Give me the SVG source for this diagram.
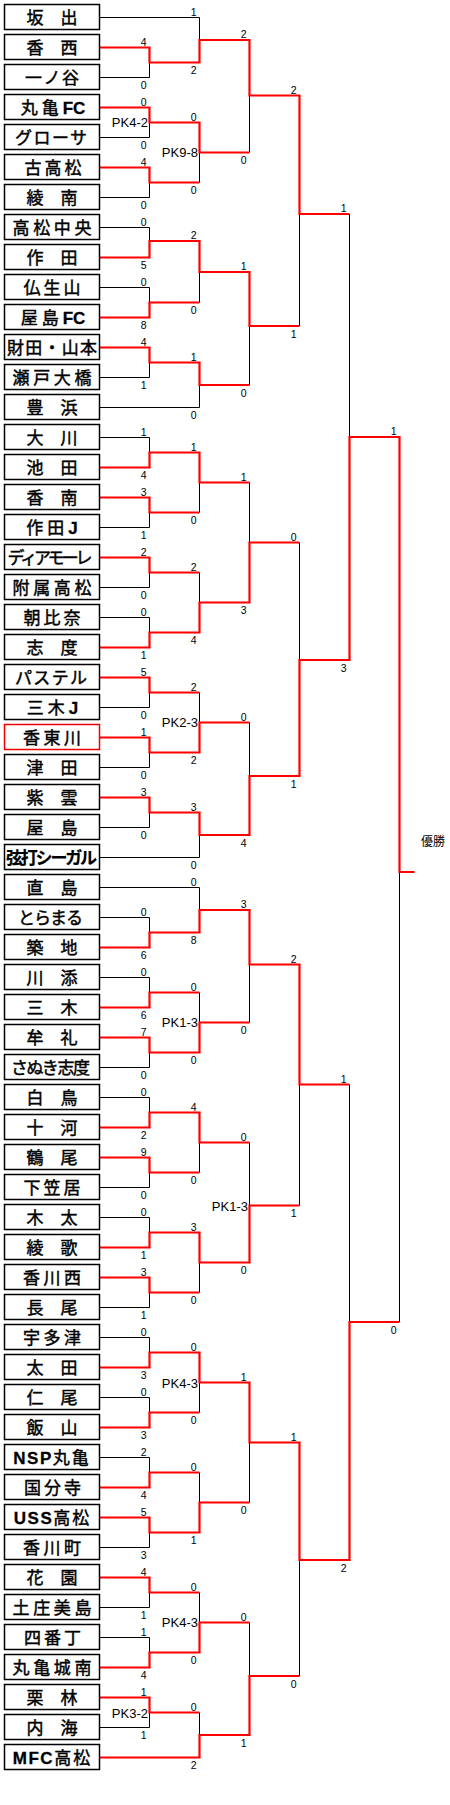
<svg xmlns="http://www.w3.org/2000/svg" width="450" height="1805" viewBox="0 0 450 1805">
<style>
.box{fill:#fff;stroke:#000;stroke-width:1.5}
.rb{stroke:#e00}
.nm{font-family:"Noto Sans CJK JP","Noto Sans CJK SC",sans-serif;font-size:17px;text-anchor:middle;fill:#000;stroke:#000;stroke-width:0.45}
.lt{font-family:"Liberation Sans",Arial,sans-serif;font-weight:bold;stroke-width:0.3}
.bd{font-weight:bold;stroke-width:0.2}
.k{fill:none;stroke:#000;stroke-width:1}
.r{fill:none;stroke:#f00;stroke-width:2.2}
.s{font-family:"Liberation Sans",Arial,sans-serif;font-size:10.5px;text-anchor:end;fill:#000}
.pk{font-family:"Liberation Sans",Arial,sans-serif;font-size:13px;text-anchor:end;fill:#000}
.w{font-family:"Noto Sans CJK JP",sans-serif;font-size:12px;fill:#000}
</style>
<defs>
<rect id="bx" x="4.5" y="4.5" width="95" height="25"/>
</defs>
<g id="connectors">
<path class="k" d="M99.5 77.5H149.5V62.5M99.5 137.5H149.5V122.5M99.5 197.5H149.5V182.5M99.5 227.5H149.5V241M99.5 287.5H149.5V302.5M99.5 377.5H149.5V362.5M99.5 437.5H149.5V452.5M99.5 527.5H149.5V512.5M99.5 587.5H149.5V572.5M99.5 617.5H149.5V632.5M99.5 707.5H149.5V692.5M99.5 767.5H149.5V752.5M99.5 827.5H149.5V812.5M99.5 917.5H149.5V932.5M99.5 977.5H149.5V992.5M99.5 1067.5H149.5V1052.5M99.5 1097.5H149.5V1112.5M99.5 1187.5H149.5V1172.5M99.5 1217.5H149.5V1232.5M99.5 1307.5H149.5V1292.5M99.5 1337.5H149.5V1352.5M99.5 1397.5H149.5V1412.5M99.5 1457.5H149.5V1472.5M99.5 1547.5H149.5V1532.5M99.5 1607.5H149.5V1592.5M99.5 1637.5H149.5V1652.5M99.5 1727.5H149.5V1712.5
M99.5 17.5H199.5V40M199.5 182.5V152.5M199.5 302.5V272M99.5 407.5H199.5V385M199.5 512.5V482.5M199.5 572.5V602.5M199.5 692.5V722.5M99.5 857.5H199.5V835M99.5 887.5H199.5V910M199.5 992.5V1022.5M199.5 1172.5V1142.5M199.5 1292.5V1262.5M199.5 1412.5V1382.5M199.5 1472.5V1502.5M199.5 1592.5V1622.5M199.5 1712.5V1735
M249.5 152.5V95.5M249.5 385V326M249.5 482.5V542.5M249.5 722.5V776M249.5 1022.5V964.5M249.5 1142.5V1205.5M249.5 1502.5V1442.5M249.5 1622.5V1676
M299.5 326V214M299.5 542.5V660M299.5 1205.5V1084.5M299.5 1676V1560
M349.5 214V437M349.5 1084.5V1322M399.5 1322V872"/>
<path class="r" d="M99.5 47.5H149.5V62.5H199.5M99.5 107.5H149.5V122.5H199.5M99.5 167.5H149.5V182.5H199.5M99.5 257.5H149.5V241H199.5M99.5 317.5H149.5V302.5H199.5M99.5 347.5H149.5V362.5H199.5M99.5 467.5H149.5V452.5H199.5M99.5 497.5H149.5V512.5H199.5M99.5 557.5H149.5V572.5H199.5M99.5 647.5H149.5V632.5H199.5M99.5 677.5H149.5V692.5H199.5M99.5 737.5H149.5V752.5H199.5M99.5 797.5H149.5V812.5H199.5M99.5 947.5H149.5V932.5H199.5M99.5 1007.5H149.5V992.5H199.5M99.5 1037.5H149.5V1052.5H199.5M99.5 1127.5H149.5V1112.5H199.5M99.5 1157.5H149.5V1172.5H199.5M99.5 1247.5H149.5V1232.5H199.5M99.5 1277.5H149.5V1292.5H199.5M99.5 1367.5H149.5V1352.5H199.5M99.5 1427.5H149.5V1412.5H199.5M99.5 1487.5H149.5V1472.5H199.5M99.5 1517.5H149.5V1532.5H199.5M99.5 1577.5H149.5V1592.5H199.5M99.5 1667.5H149.5V1652.5H199.5M99.5 1697.5H149.5V1712.5H199.5
M149.5 62.5H199.5V40H249.5M149.5 122.5H199.5V152.5H249.5M149.5 241H199.5V272H249.5M149.5 362.5H199.5V385H249.5M149.5 452.5H199.5V482.5H249.5M149.5 632.5H199.5V602.5H249.5M149.5 752.5H199.5V722.5H249.5M149.5 812.5H199.5V835H249.5M149.5 932.5H199.5V910H249.5M149.5 1052.5H199.5V1022.5H249.5M149.5 1112.5H199.5V1142.5H249.5M149.5 1232.5H199.5V1262.5H249.5M149.5 1352.5H199.5V1382.5H249.5M149.5 1532.5H199.5V1502.5H249.5M149.5 1652.5H199.5V1622.5H249.5M99.5 1757.5H199.5V1735H249.5
M199.5 40H249.5V95.5H299.5M199.5 272H249.5V326H299.5M199.5 602.5H249.5V542.5H299.5M199.5 835H249.5V776H299.5M199.5 910H249.5V964.5H299.5M199.5 1262.5H249.5V1205.5H299.5M199.5 1382.5H249.5V1442.5H299.5M199.5 1735H249.5V1676H299.5
M249.5 95.5H299.5V214H349.5M249.5 776H299.5V660H349.5M249.5 964.5H299.5V1084.5H349.5M249.5 1442.5H299.5V1560H349.5
M299.5 660H349.5V437H399.5M299.5 1560H349.5V1322H399.5
M349.5 437H399.5V872H414.5"/>
</g>
<g id="scores">
<text class="s" x="146.5" y="45.5">4</text><text class="s" x="146.5" y="89">0</text>
<text class="s" x="146.5" y="105.5">0</text><text class="s" x="146.5" y="149">0</text>
<text class="s" x="146.5" y="165.5">4</text><text class="s" x="146.5" y="209">0</text>
<text class="s" x="146.5" y="225.5">0</text><text class="s" x="146.5" y="269">5</text>
<text class="s" x="146.5" y="285.5">0</text><text class="s" x="146.5" y="329">8</text>
<text class="s" x="146.5" y="345.5">4</text><text class="s" x="146.5" y="389">1</text>
<text class="s" x="146.5" y="435.5">1</text><text class="s" x="146.5" y="479">4</text>
<text class="s" x="146.5" y="495.5">3</text><text class="s" x="146.5" y="539">1</text>
<text class="s" x="146.5" y="555.5">2</text><text class="s" x="146.5" y="599">0</text>
<text class="s" x="146.5" y="615.5">0</text><text class="s" x="146.5" y="659">1</text>
<text class="s" x="146.5" y="675.5">5</text><text class="s" x="146.5" y="719">0</text>
<text class="s" x="146.5" y="735.5">1</text><text class="s" x="146.5" y="779">0</text>
<text class="s" x="146.5" y="795.5">3</text><text class="s" x="146.5" y="839">0</text>
<text class="s" x="146.5" y="915.5">0</text><text class="s" x="146.5" y="959">6</text>
<text class="s" x="146.5" y="975.5">0</text><text class="s" x="146.5" y="1019">6</text>
<text class="s" x="146.5" y="1035.5">7</text><text class="s" x="146.5" y="1079">0</text>
<text class="s" x="146.5" y="1095.5">0</text><text class="s" x="146.5" y="1139">2</text>
<text class="s" x="146.5" y="1155.5">9</text><text class="s" x="146.5" y="1199">0</text>
<text class="s" x="146.5" y="1215.5">0</text><text class="s" x="146.5" y="1259">1</text>
<text class="s" x="146.5" y="1275.5">3</text><text class="s" x="146.5" y="1319">1</text>
<text class="s" x="146.5" y="1335.5">0</text><text class="s" x="146.5" y="1379">3</text>
<text class="s" x="146.5" y="1395.5">0</text><text class="s" x="146.5" y="1439">3</text>
<text class="s" x="146.5" y="1455.5">2</text><text class="s" x="146.5" y="1499">4</text>
<text class="s" x="146.5" y="1515.5">5</text><text class="s" x="146.5" y="1559">3</text>
<text class="s" x="146.5" y="1575.5">4</text><text class="s" x="146.5" y="1619">1</text>
<text class="s" x="146.5" y="1635.5">1</text><text class="s" x="146.5" y="1679">4</text>
<text class="s" x="146.5" y="1695.5">1</text><text class="s" x="146.5" y="1739">1</text>
<text class="s" x="196.5" y="15.5">1</text><text class="s" x="196.5" y="74">2</text>
<text class="s" x="196.5" y="120.5">0</text><text class="s" x="196.5" y="194">0</text>
<text class="s" x="196.5" y="239">2</text><text class="s" x="196.5" y="314">0</text>
<text class="s" x="196.5" y="360.5">1</text><text class="s" x="196.5" y="419">0</text>
<text class="s" x="196.5" y="450.5">1</text><text class="s" x="196.5" y="524">0</text>
<text class="s" x="196.5" y="570.5">2</text><text class="s" x="196.5" y="644">4</text>
<text class="s" x="196.5" y="690.5">2</text><text class="s" x="196.5" y="764">2</text>
<text class="s" x="196.5" y="810.5">3</text><text class="s" x="196.5" y="869">0</text>
<text class="s" x="196.5" y="885.5">0</text><text class="s" x="196.5" y="944">8</text>
<text class="s" x="196.5" y="990.5">0</text><text class="s" x="196.5" y="1064">0</text>
<text class="s" x="196.5" y="1110.5">4</text><text class="s" x="196.5" y="1184">0</text>
<text class="s" x="196.5" y="1230.5">3</text><text class="s" x="196.5" y="1304">0</text>
<text class="s" x="196.5" y="1350.5">0</text><text class="s" x="196.5" y="1424">0</text>
<text class="s" x="196.5" y="1470.5">0</text><text class="s" x="196.5" y="1544">1</text>
<text class="s" x="196.5" y="1590.5">0</text><text class="s" x="196.5" y="1664">0</text>
<text class="s" x="196.5" y="1710.5">0</text><text class="s" x="196.5" y="1769">2</text>
<text class="s" x="246.5" y="38">2</text><text class="s" x="246.5" y="164">0</text>
<text class="s" x="246.5" y="270">1</text><text class="s" x="246.5" y="396.5">0</text>
<text class="s" x="246.5" y="480.5">1</text><text class="s" x="246.5" y="614">3</text>
<text class="s" x="246.5" y="720.5">0</text><text class="s" x="246.5" y="846.5">4</text>
<text class="s" x="246.5" y="908">3</text><text class="s" x="246.5" y="1034">0</text>
<text class="s" x="246.5" y="1140.5">0</text><text class="s" x="246.5" y="1274">0</text>
<text class="s" x="246.5" y="1380.5">1</text><text class="s" x="246.5" y="1514">0</text>
<text class="s" x="246.5" y="1620.5">0</text><text class="s" x="246.5" y="1746.5">1</text>
<text class="s" x="296.5" y="93.5">2</text><text class="s" x="296.5" y="337.5">1</text>
<text class="s" x="296.5" y="540.5">0</text><text class="s" x="296.5" y="787.5">1</text>
<text class="s" x="296.5" y="962.5">2</text><text class="s" x="296.5" y="1217">1</text>
<text class="s" x="296.5" y="1440.5">1</text><text class="s" x="296.5" y="1687.5">0</text>
<text class="s" x="346.5" y="212">1</text><text class="s" x="346.5" y="671.5">3</text>
<text class="s" x="346.5" y="1082.5">1</text><text class="s" x="346.5" y="1571.5">2</text>
<text class="s" x="396.5" y="435">1</text><text class="s" x="396.5" y="1333.5">0</text>
<text class="pk" x="148" y="126.5">PK4-2</text>
<text class="pk" x="198" y="156.5">PK9-8</text>
<text class="pk" x="198" y="726.5">PK2-3</text>
<text class="pk" x="198" y="1026.5">PK1-3</text>
<text class="pk" x="248" y="1211">PK1-3</text>
<text class="pk" x="198" y="1388">PK4-3</text>
<text class="pk" x="198" y="1626.5">PK4-3</text>
<text class="pk" x="148" y="1718">PK3-2</text>
<text class="w" x="421" y="846">優勝</text>
</g>
<g id="n0"><use href="#bx" class="box"/><text class="nm" x="52" y="24" textLength="51">坂　出</text></g>
<g id="n1" transform="translate(0,30)"><use href="#bx" class="box"/><text class="nm" x="52" y="24" textLength="51">香　西</text></g>
<g id="n2" transform="translate(0,60)"><use href="#bx" class="box"/><text class="nm" x="52" y="24" textLength="54">一ノ谷</text></g>
<g id="n3" transform="translate(0,90)"><use href="#bx" class="box"/><text class="nm" x="53" y="24"><tspan letter-spacing="4">丸亀</tspan><tspan class="lt">FC</tspan></text></g>
<g id="n4" transform="translate(0,120)"><use href="#bx" class="box"/><text class="nm" x="51" y="24" textLength="72">グローサ</text></g>
<g id="n5" transform="translate(0,150)"><use href="#bx" class="box"/><text class="nm" x="53" y="24" textLength="57">古高松</text></g>
<g id="n6" transform="translate(0,180)"><use href="#bx" class="box"/><text class="nm" x="52" y="24" textLength="51">綾　南</text></g>
<g id="n7" transform="translate(0,210)"><use href="#bx" class="box"/><text class="nm" x="52" y="24" textLength="79">高松中央</text></g>
<g id="n8" transform="translate(0,240)"><use href="#bx" class="box"/><text class="nm" x="52" y="24" textLength="51">作　田</text></g>
<g id="n9" transform="translate(0,270)"><use href="#bx" class="box"/><text class="nm" x="52" y="24" textLength="57">仏生山</text></g>
<g id="n10" transform="translate(0,300)"><use href="#bx" class="box"/><text class="nm" x="53" y="24"><tspan letter-spacing="4">屋島</tspan><tspan class="lt">FC</tspan></text></g>
<g id="n11" transform="translate(0,330)"><use href="#bx" class="box"/><text class="nm" x="52" y="24" textLength="90">財田・山本</text></g>
<g id="n12" transform="translate(0,360)"><use href="#bx" class="box"/><text class="nm" x="52" y="24" textLength="79">瀬戸大橋</text></g>
<g id="n13" transform="translate(0,390)"><use href="#bx" class="box"/><text class="nm" x="52" y="24" textLength="51">豊　浜</text></g>
<g id="n14" transform="translate(0,420)"><use href="#bx" class="box"/><text class="nm" x="52" y="24" textLength="51">大　川</text></g>
<g id="n15" transform="translate(0,450)"><use href="#bx" class="box"/><text class="nm" x="52" y="24" textLength="51">池　田</text></g>
<g id="n16" transform="translate(0,480)"><use href="#bx" class="box"/><text class="nm" x="52" y="24" textLength="51">香　南</text></g>
<g id="n17" transform="translate(0,510)"><use href="#bx" class="box"/><text class="nm" x="52" y="24"><tspan letter-spacing="4">作田</tspan><tspan class="lt">J</tspan></text></g>
<g id="n18" transform="translate(0,540)"><use href="#bx" class="box"/><text class="nm" x="50" y="24" textLength="85">ディアモーレ</text></g>
<g id="n19" transform="translate(0,570)"><use href="#bx" class="box"/><text class="nm" x="52" y="24" textLength="79">附属高松</text></g>
<g id="n20" transform="translate(0,600)"><use href="#bx" class="box"/><text class="nm" x="52" y="24" textLength="57">朝比奈</text></g>
<g id="n21" transform="translate(0,630)"><use href="#bx" class="box"/><text class="nm" x="52" y="24" textLength="51">志　度</text></g>
<g id="n22" transform="translate(0,660)"><use href="#bx" class="box"/><text class="nm" x="51" y="24" textLength="72">パステル</text></g>
<g id="n23" transform="translate(0,690)"><use href="#bx" class="box"/><text class="nm" x="52.5" y="24"><tspan letter-spacing="4">三木</tspan><tspan class="lt">J</tspan></text></g>
<g id="n24" transform="translate(0,720)"><use href="#bx" class="box rb"/><text class="nm" x="52" y="24" textLength="58">香東川</text></g>
<g id="n25" transform="translate(0,750)"><use href="#bx" class="box"/><text class="nm" x="52" y="24" textLength="51">津　田</text></g>
<g id="n26" transform="translate(0,780)"><use href="#bx" class="box"/><text class="nm" x="52" y="24" textLength="51">紫　雲</text></g>
<g id="n27" transform="translate(0,810)"><use href="#bx" class="box"/><text class="nm" x="52" y="24" textLength="51">屋　島</text></g>
<g id="n28" transform="translate(0,840)"><use href="#bx" class="box"/><text class="nm bd" x="51.5" y="24" textLength="91">弦打シーガル</text></g>
<g id="n29" transform="translate(0,870)"><use href="#bx" class="box"/><text class="nm" x="52" y="24" textLength="51">直　島</text></g>
<g id="n30" transform="translate(0,900)"><use href="#bx" class="box"/><text class="nm" x="50.5" y="24" textLength="65">とらまる</text></g>
<g id="n31" transform="translate(0,930)"><use href="#bx" class="box"/><text class="nm" x="52" y="24" textLength="51">築　地</text></g>
<g id="n32" transform="translate(0,960)"><use href="#bx" class="box"/><text class="nm" x="52" y="24" textLength="51">川　添</text></g>
<g id="n33" transform="translate(0,990)"><use href="#bx" class="box"/><text class="nm" x="52" y="24" textLength="51">三　木</text></g>
<g id="n34" transform="translate(0,1020)"><use href="#bx" class="box"/><text class="nm" x="52" y="24" textLength="51">牟　礼</text></g>
<g id="n35" transform="translate(0,1050)"><use href="#bx" class="box"/><text class="nm" x="50.5" y="24" textLength="79">さぬき志度</text></g>
<g id="n36" transform="translate(0,1080)"><use href="#bx" class="box"/><text class="nm" x="52" y="24" textLength="51">白　鳥</text></g>
<g id="n37" transform="translate(0,1110)"><use href="#bx" class="box"/><text class="nm" x="52" y="24" textLength="51">十　河</text></g>
<g id="n38" transform="translate(0,1140)"><use href="#bx" class="box"/><text class="nm" x="52" y="24" textLength="51">鶴　尾</text></g>
<g id="n39" transform="translate(0,1170)"><use href="#bx" class="box"/><text class="nm" x="52" y="24" textLength="57">下笠居</text></g>
<g id="n40" transform="translate(0,1200)"><use href="#bx" class="box"/><text class="nm" x="52" y="24" textLength="51">木　太</text></g>
<g id="n41" transform="translate(0,1230)"><use href="#bx" class="box"/><text class="nm" x="52" y="24" textLength="51">綾　歌</text></g>
<g id="n42" transform="translate(0,1260)"><use href="#bx" class="box"/><text class="nm" x="52" y="24" textLength="58">香川西</text></g>
<g id="n43" transform="translate(0,1290)"><use href="#bx" class="box"/><text class="nm" x="52" y="24" textLength="51">長　尾</text></g>
<g id="n44" transform="translate(0,1320)"><use href="#bx" class="box"/><text class="nm" x="52" y="24" textLength="58">宇多津</text></g>
<g id="n45" transform="translate(0,1350)"><use href="#bx" class="box"/><text class="nm" x="52" y="24" textLength="51">太　田</text></g>
<g id="n46" transform="translate(0,1380)"><use href="#bx" class="box"/><text class="nm" x="52" y="24" textLength="51">仁　尾</text></g>
<g id="n47" transform="translate(0,1410)"><use href="#bx" class="box"/><text class="nm" x="52" y="24" textLength="51">飯　山</text></g>
<g id="n48" transform="translate(0,1440)"><use href="#bx" class="box"/><text class="nm" x="52" y="24"><tspan class="lt" letter-spacing="1.5">NSP</tspan><tspan letter-spacing="2">丸亀</tspan></text></g>
<g id="n49" transform="translate(0,1470)"><use href="#bx" class="box"/><text class="nm" x="52.5" y="24" textLength="57">国分寺</text></g>
<g id="n50" transform="translate(0,1500)"><use href="#bx" class="box"/><text class="nm" x="52.5" y="24"><tspan class="lt" letter-spacing="1.5">USS</tspan><tspan letter-spacing="2">高松</tspan></text></g>
<g id="n51" transform="translate(0,1530)"><use href="#bx" class="box"/><text class="nm" x="52" y="24" textLength="58">香川町</text></g>
<g id="n52" transform="translate(0,1560)"><use href="#bx" class="box"/><text class="nm" x="52" y="24" textLength="51">花　園</text></g>
<g id="n53" transform="translate(0,1590)"><use href="#bx" class="box"/><text class="nm" x="52" y="24" textLength="79">土庄美島</text></g>
<g id="n54" transform="translate(0,1620)"><use href="#bx" class="box"/><text class="nm" x="52.5" y="24" textLength="57">四番丁</text></g>
<g id="n55" transform="translate(0,1650)"><use href="#bx" class="box"/><text class="nm" x="52" y="24" textLength="79">丸亀城南</text></g>
<g id="n56" transform="translate(0,1680)"><use href="#bx" class="box"/><text class="nm" x="52" y="24" textLength="51">栗　林</text></g>
<g id="n57" transform="translate(0,1710)"><use href="#bx" class="box"/><text class="nm" x="52" y="24" textLength="51">内　海</text></g>
<g id="n58" transform="translate(0,1740)"><use href="#bx" class="box"/><text class="nm" x="52.5" y="24"><tspan class="lt" letter-spacing="1.5">MFC</tspan><tspan letter-spacing="2">高松</tspan></text></g>
</svg>
